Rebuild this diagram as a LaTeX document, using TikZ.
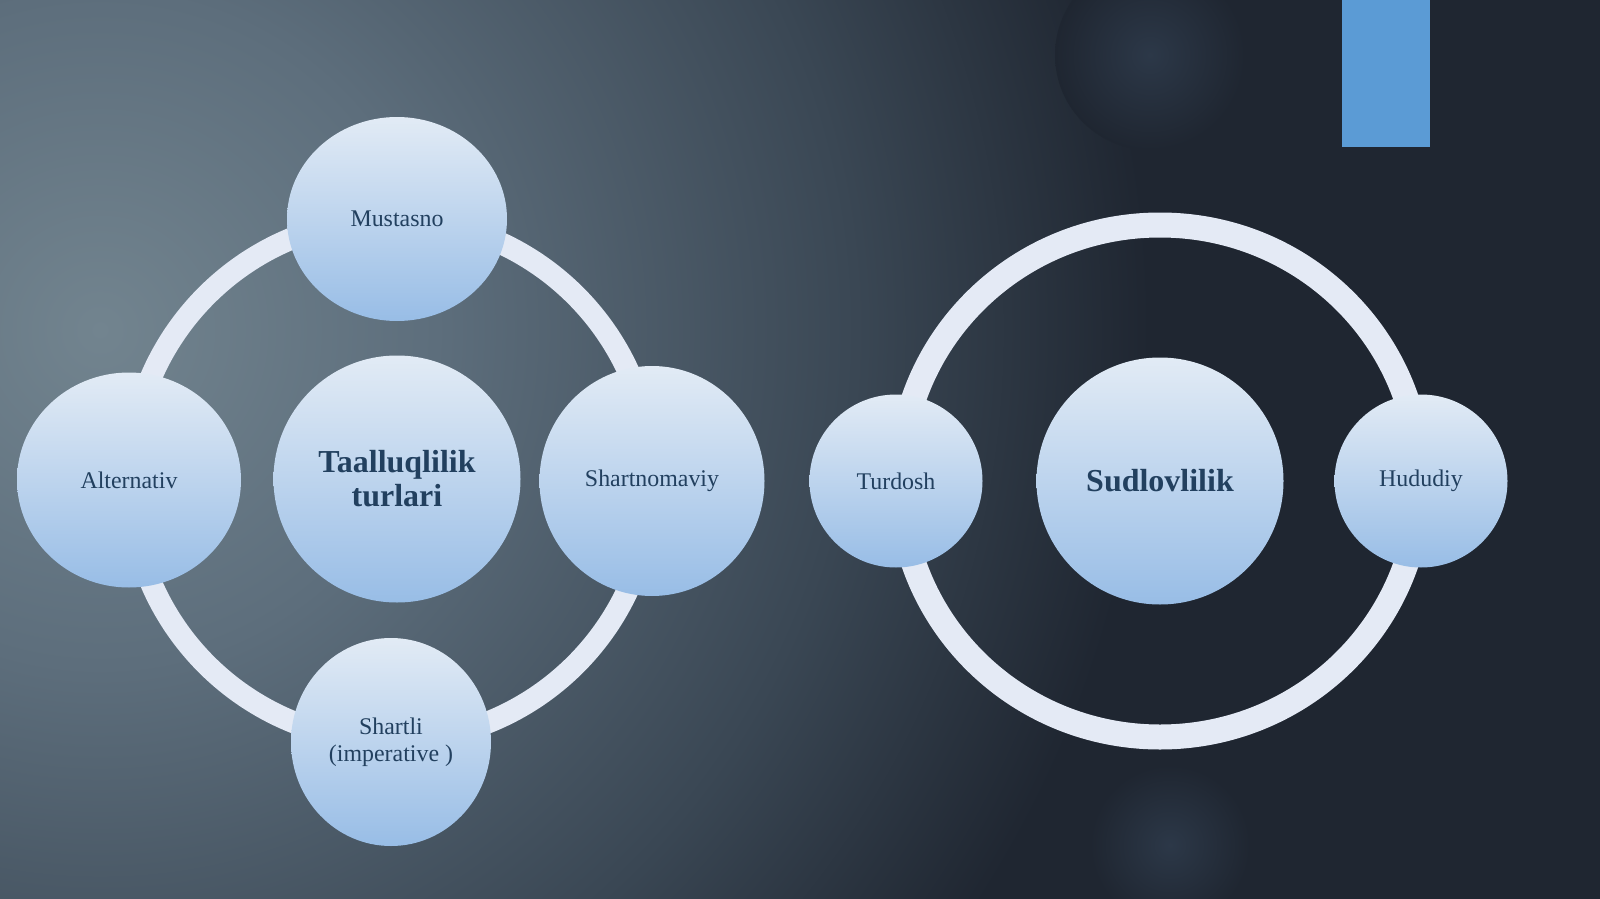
\documentclass[tikz,border=0pt]{standalone}
\usepackage{fontspec}
\setmainfont{Liberation Serif}
\usetikzlibrary{shapes.geometric}
\definecolor{bgdark}{HTML}{1F2631}
\definecolor{bgmid}{HTML}{3A4754}
\definecolor{bgsoft}{HTML}{5D6E7C}
\definecolor{bglight}{HTML}{72848F}
\definecolor{spotc}{HTML}{2C3848}
\definecolor{bubtop}{HTML}{E2EBF5}
\definecolor{bubbot}{HTML}{98BDE6}
\definecolor{ringc}{HTML}{E4EAF5}
\definecolor{inkc}{HTML}{22405F}
\definecolor{barc}{HTML}{5B9BD5}
\pgfdeclareradialshading{bgglow}{\pgfpoint{0bp}{0bp}}{color(0bp)=(bglight); color(8bp)=(bgsoft); color(18bp)=(bgmid); color(25bp)=(bgdark); color(50bp)=(bgdark)}
\pgfdeclareradialshading{bgspot}{\pgfpoint{0bp}{0bp}}{color(0bp)=(spotc); color(25bp)=(bgdark); color(50bp)=(bgdark)}
\tikzset{
	bub/.style 2 args={ellipse, top color=bubtop, bottom color=bubbot, text=inkc, align=center, inner sep=0pt,
		minimum width=#1*0.02cm, minimum height=#2*0.02cm, font=\fontsize{13.6}{15.3}\selectfont},
	hub/.style={font=\fontsize{18.2}{19.3}\selectfont\bfseries},
	ring/.style={draw=ringc, line width=#1*0.02cm}
}
\begin{document}
\begin{tikzpicture}[x=0.02cm,y=-0.02cm]
	\useasboundingbox (0,0) rectangle (1600,899);
	\fill[bgdark] (0,0) rectangle (1600,899);
	\begin{scope}
		\clip (0,0) rectangle (1600,899);
		\shade[shading=bgglow] (100,330) circle[radius=1050];
		\shade[shading=bgspot] (1150,55) circle[radius=95];
		\shade[shading=bgspot] (1170,845) circle[radius=80];
	\end{scope}
	\fill[barc] (1342,0) rectangle (1430,147);
	\coordinate (taalc) at (391,480);
	\coordinate (sudc) at (1160,481);
	\draw[ring=22] (taalc) circle[radius=261];
	\draw[ring=25] (sudc) circle[x radius=260, y radius=256];
	\node[bub={247}{247}, hub] (taal) at (397,479) {Taalluqlilik\\turlari};
	\node[bub={220}{204}] (mustasno) at (397,219) {Mustasno};
	\node[bub={224}{215}] (alternativ) at (129,480) {Alternativ};
	\node[bub={225}{230}] (shartnoma) at (652,481) {Shartnomaviy};
	\node[bub={200}{208}] (shartli) at (391,742) {Shartli\\(imperative )};
	\node[bub={247}{247}, hub] (sud) at (sudc) {Sudlovlilik};
	\node[bub={173}{173}] (turdosh) at (896,481) {Turdosh};
	\node[bub={173}{173}] (hududiy) at (1421,481) {Hududiy};
\end{tikzpicture}
\end{document}
